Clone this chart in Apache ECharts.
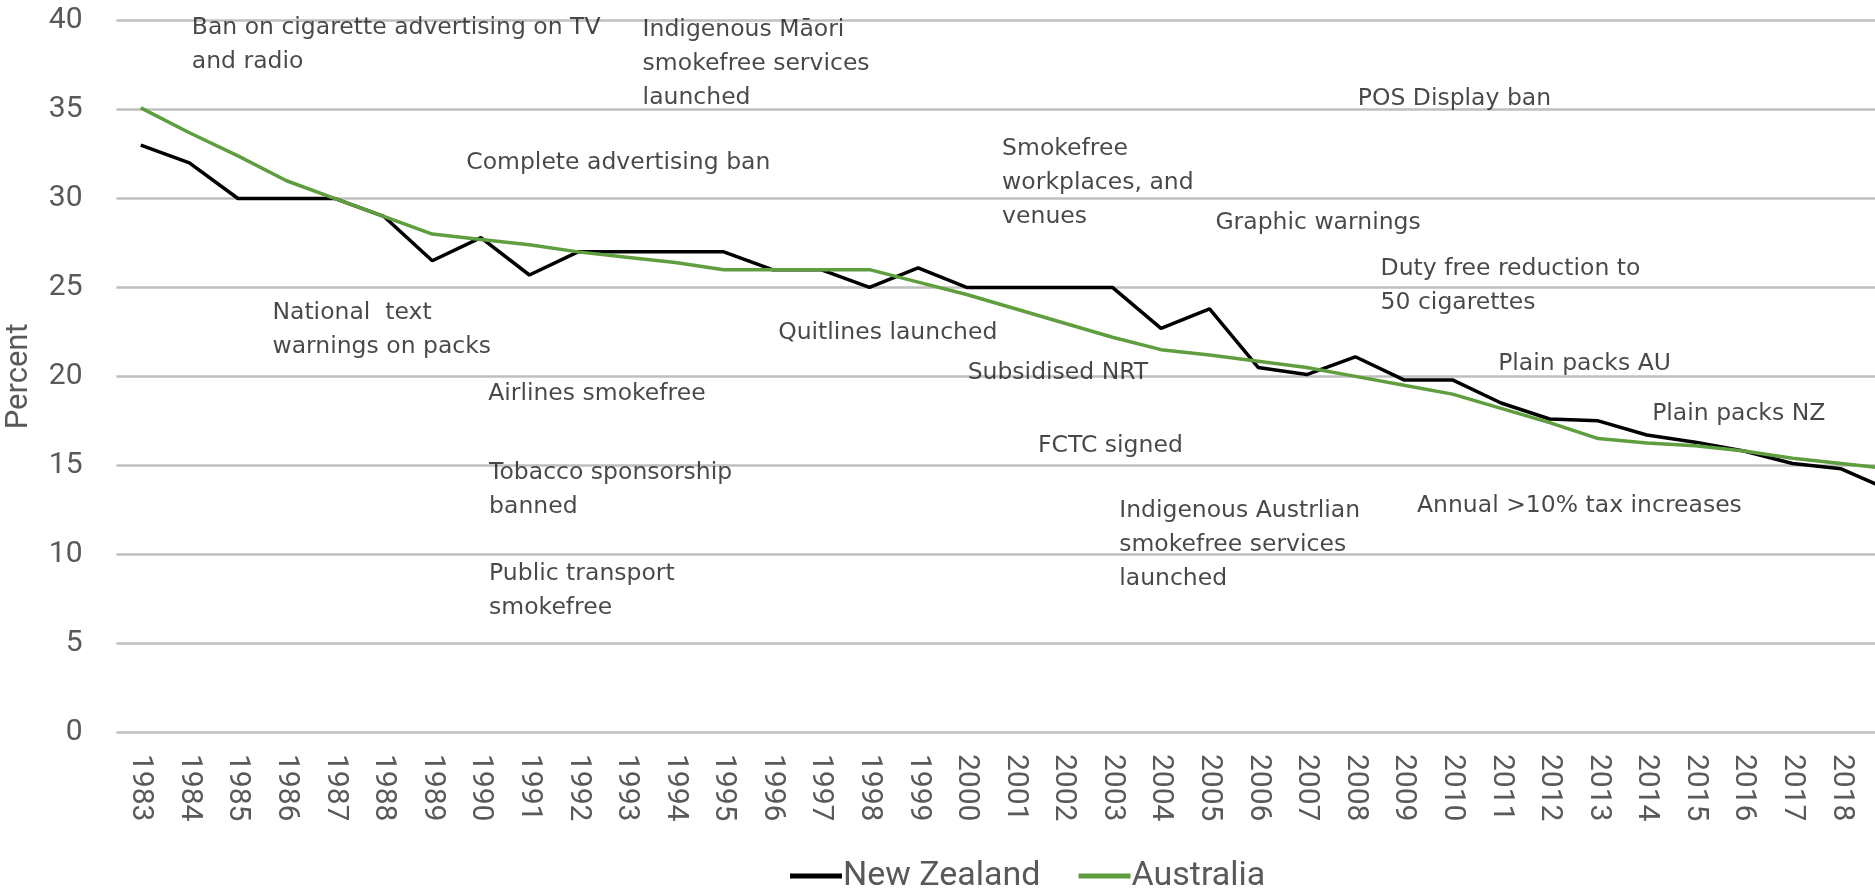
<!DOCTYPE html>
<html>
<head>
<meta charset="utf-8">
<script src="https://cdn.jsdelivr.net/npm/echarts@6/dist/echarts.min.js"></script>
<style>
  html, body { margin: 0; padding: 0; background: #fff; overflow: hidden; }
  #chart { width: 1914px; height: 889px; }
</style>
</head>
<body>
<div id="chart"></div>
<script>
// smoking prevalence, percent
const years = [
  "1983", "1984", "1985", "1986", "1987", "1988", "1989", "1990", "1991", "1992",
  "1993", "1994", "1995", "1996", "1997", "1998", "1999", "2000", "2001", "2002",
  "2003", "2004", "2005", "2006", "2007", "2008", "2009", "2010", "2011", "2012",
  "2013", "2014", "2015", "2016", "2017", "2018", "2019"
];
const newZealand = [
  33, 32, 30, 30, 30, 29, 26.5, 27.8, 25.7, 27,
  27, 27, 27, 26, 26, 25, 26.1, 25, 25, 25,
  25, 22.7, 23.8, 20.5, 20.1, 21.1, 19.8, 19.8, 18.5, 17.6,
  17.5, 16.7, 16.3, 15.8, 15.1, 14.8, 13.6
];
const australia = [
  35.1, 33.7, 32.4, 31, 30, 29, 28, 27.7, 27.4, 27,
  26.7, 26.4, 26, 26, 26, 26, 25.3, 24.6, 23.8, 23,
  22.2, 21.5, 21.2, 20.85, 20.5, 20, 19.5, 19, 18.2, 17.4,
  16.5, 16.25, 16.1, 15.8, 15.4, 15.1, 14.8
];
const yTicks = [0, 5, 10, 15, 20, 25, 30, 35, 40];

// policy events, anchored at (year, percent) of the first text line
const eventTexts = [
  "Ban on cigarette advertising on TV\nand radio",
  "Indigenous Māori\nsmokefree services\nlaunched",
  "Complete advertising ban",
  "Smokefree\nworkplaces, and\nvenues",
  "POS Display ban",
  "Graphic warnings",
  "Duty free reduction to\n50 cigarettes",
  "National  text\nwarnings on packs",
  "Quitlines launched",
  "Subsidised NRT",
  "Plain packs AU",
  "Airlines smokefree",
  "Plain packs NZ",
  "FCTC signed",
  "Tobacco sponsorship\nbanned",
  "Indigenous Austrlian\nsmokefree services\nlaunched",
  "Annual >10% tax increases",
  "Public transport\nsmokefree"
];
const eventYears = [
  1984.06, 1993.34, 1989.71, 2000.74, 2008.06, 2005.13, 2008.53, 1985.72, 1996.13,
  2000.03, 2010.95, 1990.16, 2014.12, 2001.48, 1990.18, 2003.15, 2009.28, 1990.18
];
const eventValues = [
  39.57, 39.48, 31.97, 32.74, 35.55, 28.62, 26.0, 23.56, 22.44,
  20.19, 20.66, 18.98, 17.85, 16.07, 14.57, 12.42, 12.7, 8.87
];

const chart = echarts.init(document.getElementById("chart"));

const option = {
  animation: false,
  backgroundColor: "#ffffff",
  grid: {
    left: 116.5,
    right: 0,
    top: 20.7,
    bottom: 157,
    outerBoundsMode: "none"
  },
  legend: {
    data: ["New Zealand", "Australia"],
    left: 785,
    top: 854,
    icon: "rect",
    itemWidth: 52,
    itemHeight: 5,
    itemGap: 38,
    textStyle: {
      fontFamily: "Roboto",
      fontSize: 34,
      color: "#595959",
      padding: [0, 0, 0, -4]
    }
  },
  xAxis: [
    {
      type: "category",
      data: years,
      boundaryGap: true,
      axisLine: { show: false },
      axisTick: { show: false },
      splitLine: { show: false },
      axisLabel: {
        rotate: -90,
        margin: 22,
        interval: 0,
        fontFamily: "Roboto",
        fontSize: 30,
        color: "#595959"
      }
    },
    {
      type: "value",
      min: 1982.5,
      max: 2019.5,
      show: false
    }
  ],
  yAxis: {
    type: "value",
    min: yTicks[0],
    max: yTicks[yTicks.length - 1],
    interval: 5,
    name: "Percent",
    nameLocation: "middle",
    nameGap: 82,
    nameTextStyle: {
      fontFamily: "Roboto",
      fontSize: 31,
      color: "#595959"
    },
    axisLine: { show: false },
    axisTick: { show: false },
    axisLabel: {
      margin: 34,
      fontFamily: "Roboto",
      fontSize: 30,
      color: "#595959"
    },
    splitLine: {
      lineStyle: { color: "#bfbfbf", width: 2.5 }
    }
  },
  series: [
    {
      name: "New Zealand",
      type: "line",
      data: newZealand,
      symbol: "none",
      color: "#000000",
      lineStyle: { width: 3.5, color: "#000000" }
    },
    {
      name: "Australia",
      type: "line",
      data: australia,
      symbol: "none",
      color: "#5f9e3f",
      lineStyle: { width: 3.5, color: "#5f9e3f" }
    },
    {
      name: "events",
      type: "scatter",
      xAxisIndex: 1,
      symbolSize: 1,
      itemStyle: { color: "rgba(0,0,0,0)" },
      silent: true,
      z: 5,
      data: eventTexts.map((t, i) => ({ name: t, value: [eventYears[i], eventValues[i]] })),
      label: {
        show: true,
        formatter: "{b}",
        position: [0, -17],
        align: "left",
        verticalAlign: "top",
        fontFamily: "DejaVu Sans",
        fontSize: 23.5,
        lineHeight: 34,
        color: "#1a1a1a"
      }
    }
  ]
};

chart.setOption(option);
</script>
</body>
</html>
